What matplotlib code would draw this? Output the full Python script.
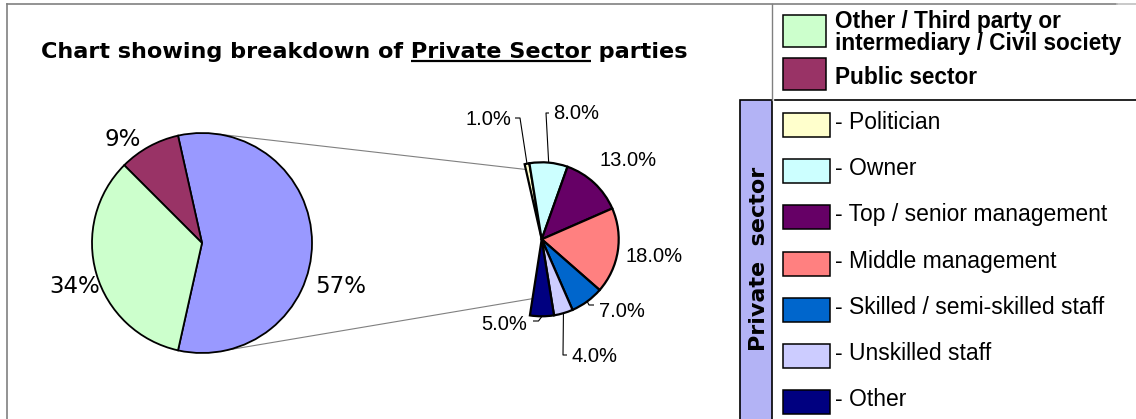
import matplotlib

matplotlib.use("Agg")
import matplotlib.pyplot as plt
import numpy as np
from matplotlib.patches import Rectangle

W, H = 1136, 419

# Overall split of parties
sector_labels = [
    "Private sector",
    "Public sector",
    "Other / Third party or intermediary / Civil society",
]
sector_share = [57, 9, 34]
sector_colors = ["#9999FF", "#993366", "#CCFFCC"]

# Private sector breakdown, percent of all parties
private_labels = [
    "Politician",
    "Owner",
    "Top / senior management",
    "Middle management",
    "Skilled / semi-skilled staff",
    "Unskilled staff",
    "Other",
]
private_share = [1.0, 8.0, 13.0, 18.0, 7.0, 4.0, 5.0]
private_colors = ["#FFFFCC", "#CCFFFF", "#660066", "#FF8080", "#0066CC", "#CCCCFF", "#000080"]

TITLE_PREFIX = "Chart showing breakdown of "
TITLE_KEY = "Private Sector"
TITLE_SUFFIX = " parties"

VERDANA = "DejaVu Sans"
ARIAL = "Liberation Sans"


def Y(y):
    # layout below is given top-down in pixels
    return H - y


def rect_px(ax, x0, y0, x1, y1, **kw):
    ax.add_patch(Rectangle((x0, Y(y1)), x1 - x0, y1 - y0, **kw))


def rim_point(center, radius, angle_deg, frac=1.0):
    a = np.deg2rad(angle_deg)
    return (center[0] + frac * radius * np.cos(a), center[1] + frac * radius * np.sin(a))


fig = plt.figure(figsize=(W / 100, H / 100), dpi=100)
fig.patch.set_facecolor("white")
ax = fig.add_axes([0, 0, 1, 1])

# ---- main pie -------------------------------------------------------------
main_center = (202, Y(243))
main_radius = 110
split_half = sector_share[0] / sum(sector_share) * 180
ax.pie(
    sector_share,
    colors=sector_colors,
    center=main_center,
    radius=main_radius,
    startangle=-split_half,
    counterclock=True,
    wedgeprops={"edgecolor": "black", "linewidth": 1.3},
)

main_label_pos = [(341, 293.3), (123, 145.7), (75, 293.3)]
for value, (lx, ly) in zip(sector_share, main_label_pos):
    ax.text(lx, Y(ly), f"{value}%", ha="center", va="baseline",
            fontsize=16.5, family=VERDANA)

# ---- private sector pie ---------------------------------------------------
sub_center = (541.7, Y(239.3))
sub_radius = 77
sub_fracs = [v / 100 for v in private_share]
sub_span = sum(sub_fracs) * 360
sub_wedges, _ = ax.pie(
    sub_fracs,
    normalize=False,
    colors=private_colors,
    center=sub_center,
    radius=sub_radius,
    startangle=sub_span / 2 + 2,
    counterclock=False,
    wedgeprops={"edgecolor": "black", "linewidth": 1.6},
)

# label x, baseline y, alignment
sub_label_pos = [
    (511, 125, "right"),
    (553, 119.3, "left"),
    (628, 165.7, "center"),
    (654.5, 261.7, "center"),
    (599, 316.7, "left"),
    (571.5, 361.7, "left"),
    (527, 330, "right"),
]
for value, (lx, ly, ha) in zip(private_share, sub_label_pos):
    ax.text(lx, Y(ly), f"{value:.1f}%", ha=ha, va="baseline",
            fontsize=14.5, family=ARIAL)

# leader lines: wedge index -> elbow point and end point
leaders = {
    0: ((520, 118), (515, 118)),
    1: ((546, 113), (549, 113)),
    4: ((589, 305), (594, 305)),
    5: ((563, 355), (567, 355)),
    6: ((538.5, 321), (533, 321)),
}
for idx, (elbow, end) in leaders.items():
    w = sub_wedges[idx]
    mid = (w.theta1 + w.theta2) / 2
    ax0, ay0 = rim_point(sub_center, sub_radius, mid)
    ax.plot([ax0, elbow[0], end[0]], [ay0, Y(elbow[1]), Y(end[1])],
            color="black", lw=0.8, solid_capstyle="butt")

# connector lines between the two pies
first_edge = sub_wedges[0].theta2
last_edge = sub_wedges[-1].theta1
p_top = rim_point(main_center, main_radius, 84)
p_bot = rim_point(main_center, main_radius, -84)
q_top = rim_point(sub_center, sub_radius, first_edge, 0.93)
q_bot = rim_point(sub_center, sub_radius, last_edge, 0.78)
for p, q in ((p_top, q_top), (p_bot, q_bot)):
    ax.plot([p[0], q[0]], [p[1], q[1]], color="#808080", lw=0.8, zorder=0)

# ---- title with underlined key phrase --------------------------------------
title_x, title_base = 41, 58.5
title_kw = {"fontsize": 16.1, "fontweight": "bold", "family": VERDANA}
ax.text(title_x, Y(title_base), TITLE_PREFIX + TITLE_KEY + TITLE_SUFFIX,
        ha="left", va="baseline", **title_kw)
renderer = fig.canvas.get_renderer()


def text_width(s):
    t = ax.text(0, 0, s, **title_kw)
    bb = t.get_window_extent(renderer)
    t.remove()
    return bb.width


upto_key = text_width(TITLE_PREFIX + TITLE_KEY)
key_w = text_width(TITLE_KEY)
ax.plot([title_x + upto_key - key_w, title_x + upto_key], [Y(61.5), Y(61.5)],
        color="black", lw=1.6, solid_capstyle="butt")

# ---- frame lines -----------------------------------------------------------
ax.plot([7, 1117], [Y(4), Y(4)], color="#808080", lw=1.2)
ax.plot([1117, W], [Y(4), Y(4)], color="#c0c0c0", lw=1.2)
ax.plot([7, 7], [Y(4), 0], color="#808080", lw=1.2)
ax.plot([772, 772], [Y(4), Y(100)], color="#808080", lw=1.0)
ax.plot([775, W], [Y(100), Y(100)], color="black", lw=1.2)

# ---- legend ----------------------------------------------------------------
sw_kw = {"edgecolor": "black", "linewidth": 1.1}
rect_px(ax, 783, 15, 826, 47, facecolor=sector_colors[2], **sw_kw)
rect_px(ax, 783, 58, 826, 90, facecolor=sector_colors[1], **sw_kw)
bold_kw = {"fontsize": 16.3, "fontweight": "bold", "family": ARIAL, "va": "baseline"}
ax.text(835, Y(28), "Other / Third party or", **bold_kw)
ax.text(835, Y(50), "intermediary / Civil society", **bold_kw)
ax.text(835, Y(84), sector_labels[1], **bold_kw)

rect_px(ax, 740, 100.5, 772, H + 5, facecolor="#B3B3F5", edgecolor="black", linewidth=1.2)
ax.text(765, Y(259), "Private  sector", rotation=90, rotation_mode="anchor",
        ha="center", va="baseline", fontsize=16, fontweight="bold", family=VERDANA)

row_top, row_step, row_h = 113.3, 46.1, 24
for i, (name, color) in enumerate(zip(private_labels, private_colors)):
    y0 = row_top + i * row_step
    rect_px(ax, 783, y0, 829.5, y0 + row_h, facecolor=color, **sw_kw)
    ax.text(835, Y(y0 + row_h / 2 + 4), f"- {name}", ha="left", va="baseline",
            fontsize=16.5, family=ARIAL)

ax.set_xlim(0, W)
ax.set_ylim(0, H)
ax.set_aspect("auto")
ax.axis("off")

fig.savefig("out.png", dpi=100)
